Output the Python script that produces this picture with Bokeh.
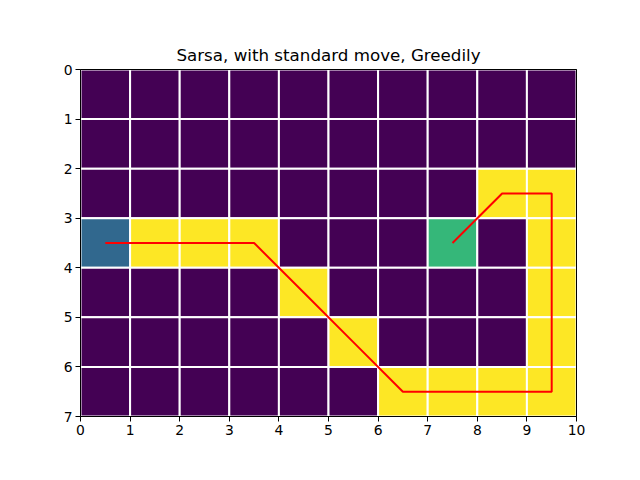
import numpy as np
from bokeh.plotting import figure
from bokeh.models import Range1d, FixedTicker, LinearColorMapper, ColumnDataSource, LinearAxis
from bokeh.embed import file_html
from bokeh.resources import INLINE

title = "Sarsa, with standard move, Greedily"
n_rows, n_cols = 7, 10
# cell values: 0 empty, 1 start, 2 goal, 3 visited path
grid = [
    [0, 0, 0, 0, 0, 0, 0, 0, 0, 0],
    [0, 0, 0, 0, 0, 0, 0, 0, 0, 0],
    [0, 0, 0, 0, 0, 0, 0, 0, 3, 3],
    [1, 3, 3, 3, 0, 0, 0, 2, 0, 3],
    [0, 0, 0, 0, 3, 0, 0, 0, 0, 3],
    [0, 0, 0, 0, 0, 3, 0, 0, 0, 3],
    [0, 0, 0, 0, 0, 0, 3, 3, 3, 3],
]
path_cols = [0, 1, 2, 3, 4, 5, 6, 7, 8, 9, 9, 9, 9, 9, 8, 7]
path_rows = [3, 3, 3, 3, 4, 5, 6, 6, 6, 6, 5, 4, 3, 2, 2, 3]
x_ticks = list(range(0, 11))
y_ticks = list(range(0, 8))

palette = ["#440154", "#31688e", "#35b779", "#fde725"]

p = figure(frame_width=496, frame_height=347, width=640, height=480,
           min_border_left=80, min_border_right=64, min_border_top=69, min_border_bottom=64,
           x_range=Range1d(0, n_cols), y_range=Range1d(n_rows, 0),
           output_backend="svg", toolbar_location=None, title=title)

vals = np.array(grid)
rr, cc = np.meshgrid(np.arange(n_rows), np.arange(n_cols), indexing="ij")
mapper = LinearColorMapper(palette=palette, low=-0.5, high=3.5)
src = ColumnDataSource(dict(x=(cc.ravel() + 0.5), y=(rr.ravel() + 0.5), v=vals.ravel()))
p.rect(x="x", y="y", width=1, height=1,
       fill_color={"field": "v", "transform": mapper},
       line_color="white", line_width=2, source=src)

p.line(np.array(path_cols) + 0.5, np.array(path_rows) + 0.5, line_color="red", line_width=2)

p.xgrid.visible = False
p.ygrid.visible = False
p.outline_line_color = "black"
p.outline_line_width = 1
p.background_fill_color = "white"
p.border_fill_color = "white"

p.title.align = "center"
p.title.text_font = "DejaVu Sans"
p.title.text_font_size = "16.7px"
p.title.text_font_style = "normal"
p.title.text_color = "black"
p.title.standoff = 10

for ax, ticks in ((p.xaxis[0], x_ticks), (p.yaxis[0], y_ticks)):
    ax.ticker = FixedTicker(ticks=ticks)
    ax.minor_tick_line_color = None
    ax.major_tick_in = 0
    ax.major_tick_out = 5
    ax.major_tick_line_color = "black"
    ax.axis_line_color = "black"
    ax.major_label_text_font = "DejaVu Sans"
    ax.major_label_text_font_size = "13.9px"
    ax.major_label_text_color = "black"
    ax.major_label_standoff = 3

for side in ("above", "right"):
    a = LinearAxis(major_tick_line_color=None, minor_tick_line_color=None,
                   major_label_text_font_size="0px", axis_line_color="black")
    a.ticker = FixedTicker(ticks=[])
    p.add_layout(a, side)

open("out.html", "w").write(file_html(p, INLINE))
